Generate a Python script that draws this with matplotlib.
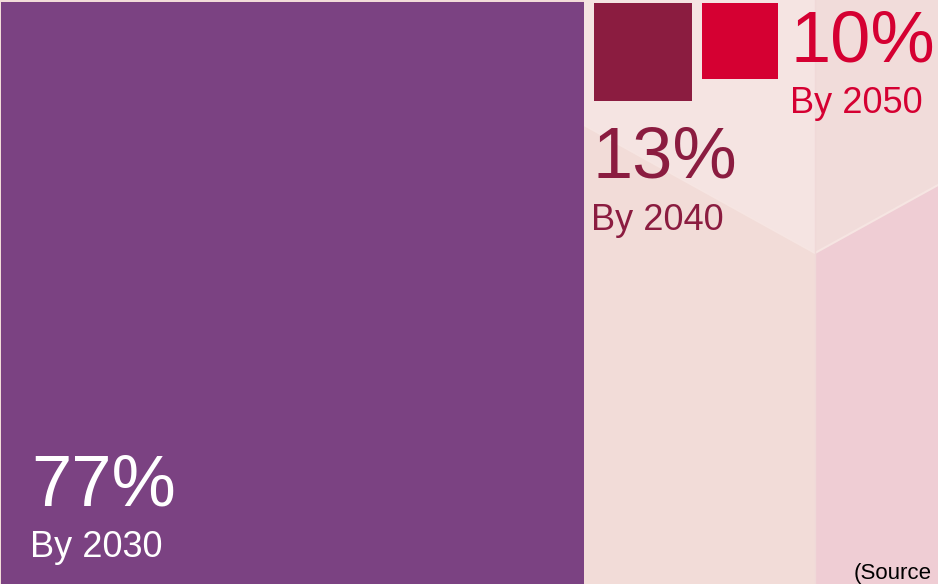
import matplotlib
matplotlib.use("Agg")
import matplotlib.pyplot as plt
from matplotlib.patches import Rectangle, Polygon

# Share of the target reached by each milestone year
shares = [77, 13, 10]
years = ["By 2030", "By 2040", "By 2050"]
colors = ["#7b4282", "#8b1c40", "#d50032"]
label_colors = ["white", "#8b1c40", "#d50032"]

W, H = 938, 584
fig = plt.figure(figsize=(W / 100, H / 100), dpi=100)
ax = fig.add_axes([0, 0, 1, 1])
ax.set_xlim(0, W)
ax.set_ylim(H, 0)
ax.axis("off")
plt.rcParams["font.family"] = ["Liberation Sans", "DejaVu Sans"]

# Soft faceted backdrop
fig.patch.set_facecolor("#f2dcd9")
facets = [
    ([(584, 0), (815, 0), (815, 253), (584, 125)], "#f5e4e2"),
    ([(815, 0), (938, 0), (938, 185), (815, 253)], "#f1dcda"),
    ([(584, 125), (815, 253), (815, 584), (584, 584)], "#f2dcd8"),
    ([(815, 253), (938, 185), (938, 584), (815, 584)], "#efcdd4"),
]
for pts, c in facets:
    ax.add_patch(Polygon(pts, closed=True, facecolor=c, edgecolor="none", zorder=0))
ax.plot([584, 815, 938], [125, 253, 185], color="#f6e5e2", lw=1.5, zorder=0.5)
ax.plot([815, 815], [0, 584], color="#f0d9d8", lw=1.0, zorder=0.5)

# Squares whose side length is proportional to the share
scale = 7.57
gap = 10
x = 1
y0 = [2, 3, 3]
for s, c, yy in zip(shares, colors, y0):
    side = s * scale
    ax.add_patch(Rectangle((x, yy), side, side, facecolor=c, edgecolor="none", zorder=1))
    x += side + gap

# Labels
big, small = 52, 26
ax.text(31, 505, f"{shares[0]}%", color=label_colors[0], fontsize=big, va="baseline", ha="left", zorder=2)
ax.text(30, 557, years[0], color=label_colors[0], fontsize=small, va="baseline", ha="left", zorder=2)

ax.text(593, 178, f"{shares[1]}%", color=label_colors[1], fontsize=big, va="baseline", ha="left", zorder=2)
ax.text(591, 230, years[1], color=label_colors[1], fontsize=small, va="baseline", ha="left", zorder=2)

ax.text(791, 62, f"{shares[2]}%", color=label_colors[2], fontsize=big, va="baseline", ha="left", zorder=2)
ax.text(790, 113, years[2], color=label_colors[2], fontsize=small, va="baseline", ha="left", zorder=2)

ax.text(854, 579, "(Source", color="black", fontsize=16, va="baseline", ha="left", zorder=2)

fig.savefig("out.png", dpi=100, facecolor=fig.get_facecolor())
